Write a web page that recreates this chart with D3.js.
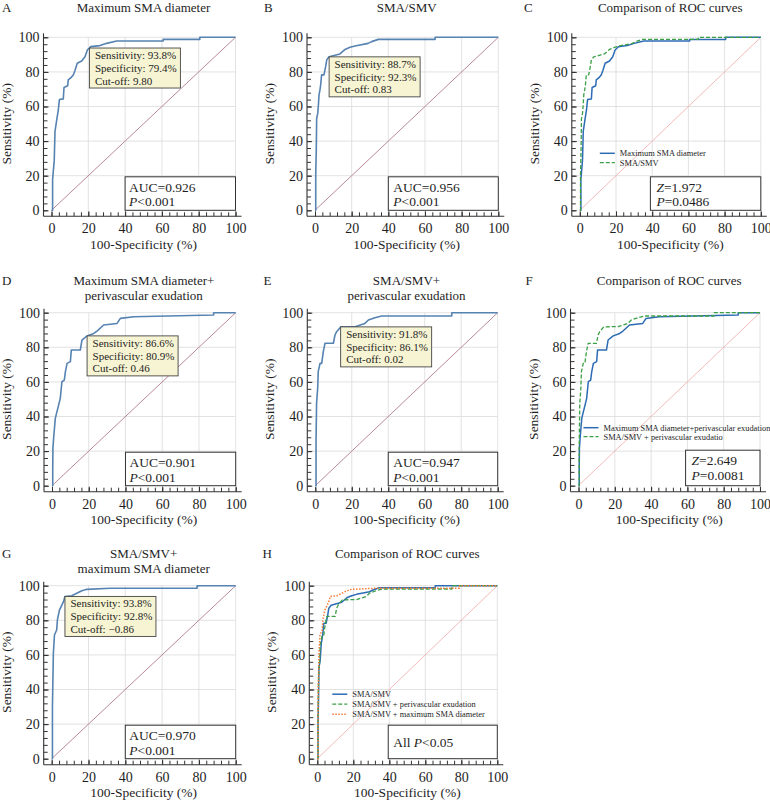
<!DOCTYPE html>
<html>
<head>
<meta charset="utf-8">
<script src="https://cdn.jsdelivr.net/npm/d3@7"></script>
<style>
  body { margin: 0; background: #fff; }
  svg { display: block; }
  text { font-family: "Liberation Serif", "Times New Roman", serif; fill: #1e1e1e; }
</style>
</head>
<body>
<div id="chart"></div>
<script>
const axisTicks = [0, 20, 40, 60, 80, 100];

// ROC curves, x = 100-specificity (%), y = sensitivity (%)
const maxSmaX = [0, 0.6, 0.6, 1.5, 1.9, 2.8, 3.7, 4.3, 6.4, 6.8, 8.8, 9.1, 10.9, 11.9, 12.8, 14.0, 16.4, 18.2, 19.5, 20.6, 21.3, 26.3, 30.0, 35.4, 60.7, 60.7, 80.6, 80.6, 100];
const maxSmaY = [0, 0, 17.7, 29.0, 45.6, 52.0, 58.0, 64.0, 64.4, 71.0, 72.0, 75.4, 77.0, 78.3, 81.0, 85.0, 86.3, 88.8, 92.7, 93.8, 94.6, 95.2, 96.5, 97.9, 97.9, 98.8, 98.8, 100, 100];

const smaSmvX = [0, 0.4, 0.4, 0.7, 0.9, 1.5, 1.8, 2.2, 2.7, 3.1, 3.6, 4.9, 5.8, 6.4, 7.7, 13.6, 16.4, 19.1, 21.8, 29.0, 30.9, 34.5, 65.5, 65.5, 100];
const smaSmvY = [0, 0, 20.6, 35.0, 53.0, 56.0, 60.0, 66.7, 69.6, 72.5, 78.3, 78.3, 83.0, 87.0, 88.7, 90.4, 93.0, 94.2, 95.0, 96.5, 97.5, 98.8, 98.8, 100, 100];

const maxSmaPeriX = [0, 0.4, 0.4, 0.5, 0.9, 1.8, 2.7, 3.6, 4.5, 5.4, 6.7, 7.3, 8.2, 10.0, 10.5, 15.4, 16.3, 19.1, 22.7, 24.5, 28.1, 35.4, 37.2, 44.5, 88.0, 88.0, 100];
const maxSmaPeriY = [0, 0, 10.0, 21.6, 27.7, 38.9, 42.8, 46.6, 50.5, 60.1, 61.0, 65.9, 70.7, 71.7, 78.4, 78.4, 84.2, 86.6, 88.0, 89.4, 92.9, 93.8, 96.7, 97.7, 98.7, 100, 100];

const smaSmvPeriX = [0, 0.4, 0.4, 0.7, 1.3, 1.6, 2.6, 3.5, 4.4, 5.3, 9.9, 10.8, 11.7, 13.9, 18.1, 21.8, 27.2, 29.1, 32.7, 36.4, 74.8, 74.8, 100];
const smaSmvPeriY = [0, 0, 25.4, 47.6, 56.3, 65.9, 70.7, 70.7, 77.5, 82.3, 82.3, 87.1, 89.0, 91.8, 91.9, 91.9, 93.8, 95.8, 97.1, 98.1, 98.1, 100, 100];

const smaSmvMaxX = [0, 0.4, 0.4, 0.9, 1.5, 2.7, 3.1, 4.2, 5.5, 6.4, 7.2, 10.9, 13.6, 16.4, 19.1, 31.8, 79.0, 79.0, 100];
const smaSmvMaxY = [0, 0, 30.0, 60.9, 71.5, 74.4, 80.2, 85.9, 88.8, 90.8, 93.8, 94.2, 95.6, 97.1, 97.9, 98.5, 98.5, 100, 100];

// optimal cut-off points (A, B, D, E, G)
const cutX = [20.6, 7.7, 19.1, 13.9, 7.2];
const cutY = [93.8, 88.7, 86.6, 91.8, 93.8];
const cutLabels = [
  ["Sensitivity: 93.8%", "Specificity: 79.4%", "Cut-off: 9.80"],
  ["Sensitivity: 88.7%", "Specificity: 92.3%", "Cut-off: 0.83"],
  ["Sensitivity: 86.6%", "Specificity: 80.9%", "Cut-off: 0.46"],
  ["Sensitivity: 91.8%", "Specificity: 86.1%", "Cut-off: 0.02"],
  ["Sensitivity: 93.8%", "Specificity: 92.8%", "Cut-off: \u22120.86"]
];

const statLabels = {
  A: ["AUC=0.926", "P<0.001"],
  B: ["AUC=0.956", "P<0.001"],
  C: ["Z=1.972", "P=0.0486"],
  D: ["AUC=0.901", "P<0.001"],
  E: ["AUC=0.947", "P<0.001"],
  F: ["Z=2.649", "P=0.0081"],
  G: ["AUC=0.970", "P<0.001"],
  H: ["All P<0.05"]
};

const styles = {
  single: { stroke: "#5683b1", width: 1.6, dash: null },
  blue:   { stroke: "#2d6cb3", width: 1.5, dash: null },
  green:  { stroke: "#3b9f45", width: 1.3, dash: "4,2" },
  orange: { stroke: "#f47d3b", width: 1.5, dash: "1.5,1.5" }
};

const panels = [
  { letter: "A", title: ["Maximum SMA diameter"], left: 51.5, top: 37.3, w: 184,
    curves: [{ xs: maxSmaX, ys: maxSmaY, style: "single" }], cut: 0, stat: { from: 40, h: 33.5, dx: 4 } },
  { letter: "B", title: ["SMA/SMV"], left: 315, top: 37.3, w: 183.3,
    curves: [{ xs: smaSmvX, ys: smaSmvY, style: "single" }], cut: 1, stat: { from: 40, h: 33.5, dx: 5 } },
  { letter: "C", title: ["Comparison of ROC curves"], left: 579.8, top: 37.3, w: 181, compare: true,
    curves: [{ xs: maxSmaX, ys: maxSmaY, style: "blue", name: "Maximum SMA diameter" },
             { xs: smaSmvX, ys: smaSmvY, style: "green", name: "SMA/SMV" }],
    legend: { dx: 20, dy: 116, gap: 9.4 }, stat: { from: 39, h: 33.5, dx: 6 } },
  { letter: "D", title: ["Maximum SMA diameter+", "perivascular exudation"], left: 52, top: 312.7, w: 183.7,
    curves: [{ xs: maxSmaPeriX, ys: maxSmaPeriY, style: "single" }], cut: 2, stat: { from: 40, h: 33.5, dx: 4 } },
  { letter: "E", title: ["SMA/SMV+", "perivascular exudation"], left: 315.3, top: 312.7, w: 182.4,
    curves: [{ xs: smaSmvPeriX, ys: smaSmvPeriY, style: "single" }], cut: 3, stat: { from: 40, h: 33.5, dx: 5 } },
  { letter: "F", title: ["Comparison of ROC curves"], left: 578.5, top: 312.7, w: 181.5, compare: true,
    curves: [{ xs: maxSmaPeriX, ys: maxSmaPeriY, style: "blue", name: "Maximum SMA diameter+perivascular exudation" },
             { xs: smaSmvPeriX, ys: smaSmvPeriY, style: "green", name: "SMA/SMV + perivascular exudatio" }],
    legend: { dx: 5, dy: 115, gap: 9 }, stat: { from: 59, h: 35.5, dx: 6 } },
  { letter: "G", title: ["SMA/SMV+", "maximum SMA diameter"], left: 51.7, top: 585.7, w: 184,
    curves: [{ xs: smaSmvMaxX, ys: smaSmvMaxY, style: "single" }], cut: 4, stat: { from: 40, h: 33.5, dx: 4 } },
  { letter: "H", title: ["Comparison of ROC curves"], left: 317.3, top: 585.7, w: 180, compare: true,
    curves: [{ xs: smaSmvX, ys: smaSmvY, style: "blue", name: "SMA/SMV" },
             { xs: smaSmvPeriX, ys: smaSmvPeriY, style: "green", name: "SMA/SMV + perivascular exudation" },
             { xs: smaSmvMaxX, ys: smaSmvMaxY, style: "orange", name: "SMA/SMV + maximum SMA diameter" }],
    legend: { dx: 15, dy: 108.5, gap: 10 }, stat: { from: 39.4, h: 33.5, dx: 5, single: true } }
];

const plotH = 173;
const letterX = { A: 2, B: 264, C: 524, D: 2, E: 263.5, F: 525.5, G: 2, H: 262.5 };

const svg = d3.select("#chart").append("svg")
  .attr("width", 770)
  .attr("height", 801);

// italic P / Z in the statistics
function richText(sel, str) {
  str.split(/([PZ])(?=[<=])/).forEach(part => {
    if (!part) return;
    sel.append("tspan")
      .attr("font-style", /^[PZ]$/.test(part) ? "italic" : null)
      .text(part);
  });
}

panels.forEach(p => {
  const g = svg.append("g");
  const x = d3.scaleLinear().domain([0, 100]).range([p.left, p.left + p.w]);
  const y = d3.scaleLinear().domain([0, 100]).range([p.top + plotH, p.top]);
  const axisX = p.left - 8;
  const axisY = p.top + plotH + 6;
  const titleY = Math.max(p.top - 28, 11.8);

  //Grid
  g.append("g").selectAll("line")
    .data(axisTicks.slice(1))
    .join("line")
    .attr("x1", d => x(d)).attr("x2", d => x(d))
    .attr("y1", axisY).attr("y2", y(100))
    .attr("stroke", "#dadada").attr("stroke-width", 0.8);
  g.append("g").selectAll("line")
    .data(axisTicks.slice(1))
    .join("line")
    .attr("x1", axisX).attr("x2", x(100))
    .attr("y1", d => y(d)).attr("y2", d => y(d))
    .attr("stroke", "#dadada").attr("stroke-width", 0.8);

  //Reference diagonal
  g.append("line")
    .attr("x1", x(0)).attr("y1", y(0))
    .attr("x2", x(100)).attr("y2", y(100))
    .attr("stroke", p.compare ? "#f1a9a9" : "#b98a98")
    .attr("stroke-width", p.compare ? 0.8 : 1);

  //Axes (minor ticks every 4, labels every 20)
  const minor = d3.range(0, 101, 4);
  g.append("g")
    .attr("transform", `translate(${axisX},0)`)
    .style("color", "#333")
    .call(d3.axisLeft(y).tickValues(minor).tickSize(-4).tickFormat(""))
    .call(a => a.select(".domain").remove());
  g.append("g")
    .attr("transform", `translate(0,${axisY})`)
    .style("color", "#333")
    .call(d3.axisBottom(x).tickValues(minor).tickSize(-4).tickFormat(""))
    .call(a => a.select(".domain").remove());

  const yAx = g.append("g")
    .attr("transform", `translate(${axisX},0)`)
    .style("color", "#333")
    .call(d3.axisLeft(y).tickValues(axisTicks).tickSize(-5).tickPadding(4))
    .call(a => a.select(".domain").remove());
  const xAx = g.append("g")
    .attr("transform", `translate(0,${axisY})`)
    .style("color", "#333")
    .call(d3.axisBottom(x).tickValues(axisTicks).tickSize(-5).tickPadding(7))
    .call(a => a.select(".domain").remove());
  [yAx, xAx].forEach(a => a
    .attr("font-family", null)
    .attr("font-size", 14)
    .selectAll("text").style("fill", "#1e1e1e"));

  g.append("line")
    .attr("x1", axisX).attr("x2", axisX)
    .attr("y1", y(100) - 4).attr("y2", axisY)
    .attr("stroke", "#333").attr("stroke-width", 1.1);
  g.append("line")
    .attr("x1", axisX).attr("x2", x(100) + 6)
    .attr("y1", axisY).attr("y2", axisY)
    .attr("stroke", "#333").attr("stroke-width", 1.1);

  //Axis labels
  g.append("text")
    .attr("x", (x(0) + x(100)) / 2)
    .attr("y", axisY + 32.5)
    .attr("text-anchor", "middle")
    .style("font-size", "13.5px")
    .text("100-Specificity (%)");
  g.append("text")
    .attr("transform", "rotate(-90)")
    .attr("x", -(y(0) + y(100)) / 2)
    .attr("y", axisX - 33)
    .attr("text-anchor", "middle")
    .style("font-size", "13.5px")
    .text("Sensitivity (%)");

  //Title and panel letter
  p.title.forEach((t, i) => {
    g.append("text")
      .attr("x", (x(0) + x(100)) / 2)
      .attr("y", titleY + i * 15)
      .attr("text-anchor", "middle")
      .style("font-size", "13px")
      .text(t);
  });
  g.append("text")
    .attr("x", letterX[p.letter])
    .attr("y", titleY)
    .style("font-size", "13px")
    .text(p.letter);

  //Stats box
  const st = p.stat;
  const bx = x(st.from), by = y(0) - st.h;
  g.append("rect")
    .attr("x", bx).attr("y", by)
    .attr("width", x(100) - bx).attr("height", st.h)
    .attr("fill", "#fff").attr("stroke", "#333").attr("stroke-width", 1);
  statLabels[p.letter].forEach((s, i) => {
    const t = g.append("text")
      .attr("x", bx + st.dx)
      .attr("y", st.single ? by + st.h / 2 + 5 : by + 15 + i * 14.5)
      .style("font-size", "13.5px");
    richText(t, s);
  });

  //ROC curves
  const line = d3.line()
    .x(d => x(d[0]))
    .y(d => y(d[1]));
  p.curves.forEach(c => {
    const s = styles[c.style];
    g.append("path")
      .datum(d3.zip(c.xs, c.ys))
      .attr("fill", "none")
      .attr("stroke", s.stroke)
      .attr("stroke-width", s.width)
      .attr("stroke-dasharray", s.dash)
      .attr("stroke-linejoin", "round")
      .attr("d", line);
  });

  //Legend
  if (p.legend) {
    p.curves.forEach((c, i) => {
      const s = styles[c.style];
      const ly = p.top + p.legend.dy + i * p.legend.gap;
      g.append("line")
        .attr("x1", p.left + p.legend.dx).attr("x2", p.left + p.legend.dx + 15)
        .attr("y1", ly).attr("y2", ly)
        .attr("stroke", s.stroke).attr("stroke-width", s.width)
        .attr("stroke-dasharray", s.dash);
      g.append("text")
        .attr("x", p.left + p.legend.dx + 20)
        .attr("y", ly + 2.8)
        .style("font-size", "8.4px")
        .text(c.name);
    });
  }

  //Cut-off box
  if (p.cut !== undefined) {
    const cx = x(cutX[p.cut]), cy = y(cutY[p.cut]);
    g.append("rect")
      .attr("x", cx).attr("y", cy)
      .attr("width", 91).attr("height", 40)
      .attr("fill", "#f7f4d3")
      .attr("stroke", "#444").attr("stroke-width", 0.9);
    cutLabels[p.cut].forEach((t, i) => {
      g.append("text")
        .attr("x", cx + 5.5)
        .attr("y", cy + 11 + i * 12.8)
        .style("font-size", "11px")
        .text(t);
    });
  }
});
</script>
</body>
</html>
